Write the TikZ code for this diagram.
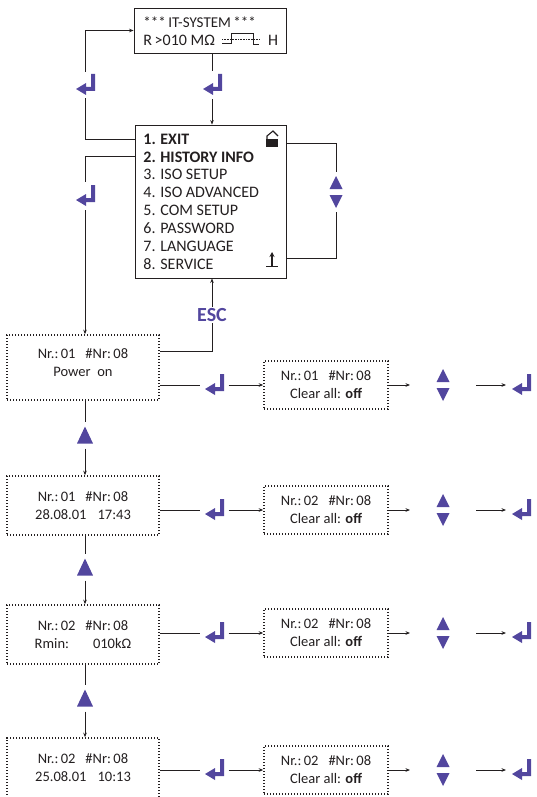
\documentclass[tikz,border=0pt]{standalone}
\usepackage{fontspec}
\setmainfont{Carlito}
\usetikzlibrary{arrows.meta}

\definecolor{keypurple}{RGB}{82,70,158} % key symbols and ESC
\definecolor{inkgray}{RGB}{35,31,32} % lines and display text

\tikzset{
    lcd/.style={font=\fontsize{14.5}{18}\selectfont, text=inkgray, align=center, inner sep=0pt},
    menutext/.style={lcd, font=\fontsize{16}{18}\selectfont},
    framebox/.style={draw=inkgray, line width=0.9pt, inner sep=0pt},
    dotbox/.style={lcd, draw=inkgray, line width=1.6pt, dash pattern=on 1.4pt off 1.6pt},
    slot/.style={inner sep=0pt, outer sep=0pt},
    enterkey/.pic={\fill[keypurple] (-9,4) -- (1,-2) -- (1,2) -- (6,2) -- (6,-11) -- (10,-11) -- (10,6) -- (1,6) -- (1,10) -- cycle;},
    updown/.pic={\fill[keypurple] (-6.5,-3) -- (6.5,-3) -- (0,-16) -- cycle; \fill[keypurple] (-6.5,3) -- (6.5,3) -- (0,16) -- cycle;},
    upkey/.pic={\fill[keypurple] (-8,8.5) -- (8,8.5) -- (0,-8.5) -- cycle;}
}

\begin{document}
\begin{tikzpicture}[x=1pt, y=-1pt, line width=0.8pt, color=inkgray, >={Stealth[length=4.5pt,width=3.6pt]}]
    % Page frame, pixel grid of the display sheet (y grows downwards)
    \useasboundingbox (0,0) rectangle (536,797);

    % Status display on top
    \node[framebox, minimum width=152pt, minimum height=45pt] (status) at (210,30.5) {};
    \node[lcd, font=\fontsize{15}{18}\selectfont, anchor=west] (statustitle) at (143,22) {***\,IT-SYSTEM\,***};
    \node[menutext, anchor=west] (statusvalue) at (143,40) {R\,>010 MΩ};
    \node[menutext] (statush) at (273,40) {H};
    \draw[line width=0.6pt] (222,43) -- (231,43) -- (231,33) -- (253,33) -- (253,44) -- (259,44); % pulse symbol
    \draw[line width=0.6pt, densely dotted] (222,39) -- (259,39);

    % Main menu
    \node[framebox, minimum width=151pt, minimum height=153pt] (menu) at (210.5,201.5) {};
    \foreach \i/\t/\w in {1/EXIT/\bfseries, 2/HISTORY INFO/\bfseries, 3/ISO SETUP/\relax, 4/ISO ADVANCED/\relax,
                          5/COM SETUP/\relax, 6/PASSWORD/\relax, 7/LANGUAGE/\relax, 8/SERVICE/\relax}
        \node[menutext, anchor=west] (m\i) at (143,{139+(\i-1)*17.85}) {\w\makebox[17pt][l]{\i.}\t};

    % Lock and top symbols inside the menu
    \coordinate (lock) at (272,143);
    \fill (266,139) rectangle (278,147);
    \draw[line width=1.1pt] (267,139) -- (267,136) -- (273,131) -- (278,136);
    \coordinate (topkey) at (272,258);
    \draw[line width=1.1pt, -{Stealth[length=5pt,width=5pt]}] (272,266) -- (272,252);
    \draw[line width=1.1pt] (266,266.5) -- (278,266.5);

    % Scroll loop on the right of the menu
    \path (336,192) node[slot, minimum width=16pt, minimum height=40pt] (scroll) {} pic {updown};
    \draw (menu.east |- lock) -| (scroll.north);
    \draw (scroll.south) |- (menu.east |- topkey);

    % Enter from status into menu, and EXIT back to status
    \path (212,85) node[slot, minimum width=26pt, minimum height=28pt] (okdown) {} pic {enterkey};
    \draw (okdown |- status.south) -- (okdown.north);
    \draw[->] (okdown.south) -- (okdown |- menu.north);
    \path (85,85) node[slot, minimum width=26pt, minimum height=26pt] (okback) {} pic {enterkey};
    \draw (menu.west |- m1) -| (okback.south);
    \draw[->] (okback.north) |- (status.west);

    % HISTORY INFO down to the records
    \path (85,196) node[slot, minimum width=26pt, minimum height=28pt] (okhist) {} pic {enterkey};
    \draw (menu.west |- m2) -| (okhist.north);

    % History records
    \node[dotbox, minimum width=152pt, minimum height=65pt,
          label={[lcd, yshift=4.5pt]center:{Nr.:\,01\hspace{10pt}\#Nr:\,08\\Power\ \ on}}] (rec1) at (83,367.5) {};
    \node[dotbox, minimum width=152pt, minimum height=59pt] (rec2) at (83,505.5) {Nr.:\,01\hspace{10pt}\#Nr:\,08\\28.08.01\hspace{11pt}17:43};
    \node[dotbox, minimum width=152pt, minimum height=59pt] (rec3) at (83,634.5) {Nr.:\,02\hspace{10pt}\#Nr:\,08\\Rmin:\hspace{24pt}010kΩ};
    \node[dotbox, minimum width=152pt, minimum height=60pt] (rec4) at (83,768) {Nr.:\,02\hspace{10pt}\#Nr:\,08\\25.08.01\hspace{11pt}10:13};
    \draw[->] (okhist.south) -- (okhist |- rec1.north);

    % Up keys between the records
    \foreach \a/\b/\y in {1/2/435, 2/3/567, 3/4/698} {
        \path (85,\y) node[slot, minimum width=18pt, minimum height=27pt] (back\a) {} pic {upkey};
        \draw (back\a |- rec\a.south) -- (back\a.north);
        \draw[->] (back\a.south) -- (back\a |- rec\b.north);
    }

    % ESC back to the menu
    \node[font=\fontsize{20}{24}\selectfont\bfseries, text=keypurple, inner sep=1pt] (esc) at (212,315) {ESC};
    \draw[->] (esc.north) -- (esc |- menu.south);
    \draw ([yshift=-17pt]rec1.north east) -| (esc.south);

    % Clear dialogs, one per record
    \foreach \n/\y/\nr in {1/385/01, 2/510/02, 3/633/02, 4/770/02} {
        \node[dotbox, minimum width=124pt, minimum height=48pt] (clear\n) at (326,\y) {Nr.:\,\nr\hspace{10pt}\#Nr:\,08\\Clear all: \textbf{off}};
        \path (214,\y) node[slot, minimum width=29pt, minimum height=20pt] (okrow\n) {} pic {enterkey};
        \path (443,\y) node[slot, minimum width=66pt, minimum height=34pt] (pick\n) {} pic {updown};
        \path (521,\y) node[slot, minimum width=30pt, minimum height=20pt] (okend\n) {} pic {enterkey};
        \draw (rec\n.east |- okrow\n) -- (okrow\n);
        \draw[->] (okrow\n) -- (clear\n);
        \draw[->] (clear\n) -- (pick\n);
        \draw[->] (pick\n) -- (okend\n);
    }
\end{tikzpicture}
\end{document}
